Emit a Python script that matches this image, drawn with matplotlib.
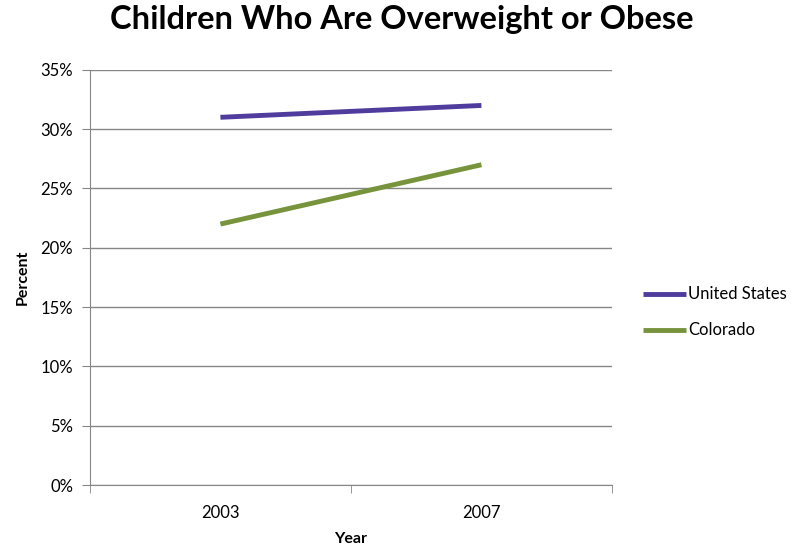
import matplotlib
matplotlib.use("Agg")
import matplotlib.pyplot as plt
from matplotlib.ticker import FixedLocator, PercentFormatter

plt.rcParams['font.family'] = ['Lato', 'DejaVu Sans']

years = ["2003", "2007"]
us = [31, 32]
colorado = [22, 27]
y_ticks = [0, 5, 10, 15, 20, 25, 30, 35]

fig = plt.figure(figsize=(8.03, 5.50), dpi=100)
ax = fig.add_axes([0.112, 0.118, 0.650, 0.755])

x = list(range(len(years)))
ax.plot(x, us, color="#4F3C9C", lw=3.5, label="United States", solid_capstyle="butt")
ax.plot(x, colorado, color="#77933C", lw=3.5, label="Colorado", solid_capstyle="butt")

ax.set_xlim(-0.5, len(years) - 0.5)
ax.set_ylim(0, 35)
ax.set_yticks(y_ticks)
ax.yaxis.set_major_formatter(PercentFormatter(decimals=0))
ax.set_xticks(x)
ax.set_xticklabels(years)
ax.xaxis.set_minor_locator(FixedLocator([-0.5, 0.5, 1.5]))
ax.tick_params(axis="x", which="major", length=0, pad=14, labelsize=12)
ax.tick_params(axis="x", which="minor", length=6, color="#868686", direction="out")
ax.tick_params(axis="y", length=6, color="#868686", labelsize=12, pad=6)

ax.grid(axis="y", color="#868686", lw=1)
ax.set_axisbelow(True)
for s in ["top", "right"]:
    ax.spines[s].set_visible(False)
for s in ["left", "bottom"]:
    ax.spines[s].set_color("#868686")

ax.set_xlabel("Year", fontsize=11.5, fontweight="bold", labelpad=8)
ax.set_ylabel("Percent", fontsize=11.5, fontweight="bold", labelpad=8)

fig.suptitle("Children Who Are Overweight or Obese", fontsize=23.5, fontweight="bold", y=0.99)

fig.legend(loc="center left", bbox_to_anchor=(0.782, 0.432), frameon=False,
           fontsize=12, handlelength=2.6, handletextpad=0.1, labelspacing=1.2)

fig.savefig("out.png", dpi=100)
